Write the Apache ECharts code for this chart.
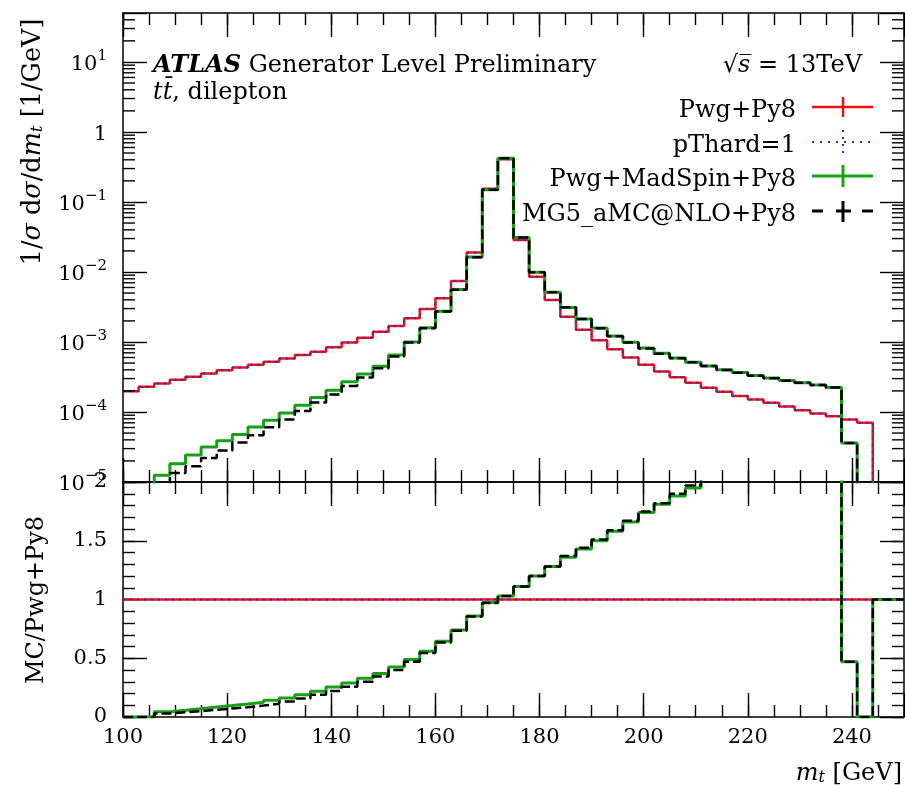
<!DOCTYPE html>
<html><head><meta charset="utf-8">
<script src="https://cdn.jsdelivr.net/npm/echarts@6/dist/echarts.min.js"></script>
<style>html,body{margin:0;padding:0;background:#fff}#c{width:905px;height:785px}</style>
</head><body><div id="c"></div>
<script>
// ---- data (3 GeV bins, 100-250 GeV) ----
const binEdges = [100,103,106,109,112,115,118,121,124,127,130,133,136,139,142,145,148,151,154,157,160,163,166,169,172,175,178,181,184,187,190,193,196,199,202,205,208,211,214,217,220,223,226,229,232,235,238,241,244,247,250];

const pwgPy8 = [1.97e-4,2.29e-4,2.56e-4,2.88e-4,3.18e-4,3.56e-4,3.96e-4,4.33e-4,4.72e-4,5.21e-4,
  5.82e-4,6.5e-4,7.24e-4,8.38e-4,9.8e-4,1.15e-3,1.40e-3,1.69e-3,2.18e-3,2.96e-3,
  4.21e-3,7.43e-3,1.89e-2,0.154,0.409,2.87e-2,8.57e-3,3.98e-3,2.30e-3,1.50e-3,
  1.06e-3,7.9e-4,6.0e-4,4.72e-4,3.8e-4,3.13e-4,2.62e-4,2.22e-4,1.94e-4,1.69e-4,
  1.51e-4,1.35e-4,1.20e-4,1.06e-4,9.5e-5,8.7e-5,7.8e-5,7.0e-5,0,0];

const pThard1 = [1.97e-4,2.29e-4,2.56e-4,2.88e-4,3.18e-4,3.56e-4,3.96e-4,4.33e-4,4.72e-4,5.21e-4,
  5.82e-4,6.5e-4,7.24e-4,8.38e-4,9.8e-4,1.15e-3,1.40e-3,1.69e-3,2.18e-3,2.96e-3,
  4.21e-3,7.43e-3,1.89e-2,0.154,0.409,2.87e-2,8.57e-3,3.98e-3,2.30e-3,1.50e-3,
  1.06e-3,7.9e-4,6.0e-4,4.72e-4,3.8e-4,3.13e-4,2.62e-4,2.22e-4,1.94e-4,1.69e-4,
  1.51e-4,1.35e-4,1.20e-4,1.06e-4,9.5e-5,8.7e-5,7.8e-5,7.0e-5,0,0];

const pwgMadSpinPy8 = [0,0,1.25e-5,1.83e-5,2.43e-5,3.17e-5,3.87e-5,4.77e-5,6.1e-5,7.6e-5,
  9.7e-5,1.25e-4,1.61e-4,2.05e-4,2.7e-4,3.5e-4,4.5e-4,6.5e-4,1.0e-3,1.6e-3,
  2.75e-3,5.6e-3,1.63e-2,0.15,0.42,3.1e-2,9.9e-3,5.13e-3,3.12e-3,2.13e-3,
  1.58e-3,1.22e-3,9.9e-4,8.2e-4,6.9e-4,5.9e-4,5.15e-4,4.55e-4,4.0e-4,3.65e-4,
  3.32e-4,3.05e-4,2.82e-4,2.61e-4,2.42e-4,2.24e-4,3.61e-5,0,0,0];

const mg5amcPy8 = [0,0,9e-6,1.35e-5,1.68e-5,2.2e-5,2.81e-5,3.66e-5,4.66e-5,6.07e-5,
  7.82e-5,1.03e-4,1.37e-4,1.78e-4,2.36e-4,3.1e-4,4.2e-4,6.2e-4,9.8e-4,1.57e-3,
  2.72e-3,5.55e-3,1.62e-2,0.15,0.42,3.1e-2,9.9e-3,5.13e-3,3.13e-3,2.13e-3,
  1.57e-3,1.21e-3,9.8e-4,8.1e-4,6.8e-4,5.85e-4,5.12e-4,4.52e-4,3.98e-4,3.62e-4,
  3.3e-4,3.03e-4,2.8e-4,2.61e-4,2.42e-4,2.24e-4,3.61e-5,0,0,0];

const ratioPwgPy8 = [1,1,1,1,1,1,1,1,1,1, 1,1,1,1,1,1,1,1,1,1, 1,1,1,1,1,1,1,1,1,1, 1,1,1,1,1,1,1,1,1,1, 1,1,1,1,1,1,1,1,1,1];
const ratioPThard1 = [1,1,1,1,1,1,1,1,1,1, 1,1,1,1,1,1,1,1,1,1, 1,1,1,1,1,1,1,1,1,1, 1,1,1,1,1,1,1,1,1,1, 1,1,1,1,1,1,1,1,1,1];
const ratioMadSpin = [0,0,0.045,0.057,0.07,0.085,0.097,0.11,0.125,0.143,
  0.162,0.19,0.22,0.255,0.29,0.33,0.37,0.425,0.49,0.56,
  0.645,0.74,0.86,0.975,1.03,1.11,1.2,1.28,1.36,1.43,
  1.5,1.58,1.66,1.74,1.81,1.88,1.95,2.03,2.05,2.2,
  2.2,2.28,2.36,2.46,2.55,2.57,0.47,0,1,1];
const ratioMg5amc = [0,0,0.03,0.04,0.05,0.062,0.072,0.083,0.097,0.113,
  0.132,0.158,0.19,0.222,0.258,0.3,0.345,0.4,0.47,0.545,
  0.635,0.735,0.855,0.97,1.03,1.11,1.2,1.28,1.37,1.44,
  1.51,1.59,1.67,1.75,1.82,1.9,1.97,2.04,2.05,2.2,
  2.2,2.28,2.36,2.46,2.55,2.57,0.47,0,1,1];

const logMinorTicks = [2e-5,3e-5,4e-5,5e-5,6e-5,7e-5,8e-5,9e-5,
  2e-4,3e-4,4e-4,5e-4,6e-4,7e-4,8e-4,9e-4,
  2e-3,3e-3,4e-3,5e-3,6e-3,7e-3,8e-3,9e-3,
  2e-2,3e-2,4e-2,5e-2,6e-2,7e-2,8e-2,9e-2,
  0.2,0.3,0.4,0.5,0.6,0.7,0.8,0.9,
  2,3,4,5,6,7,8,9, 20,30,40];

const seriesNames = ['Pwg+Py8','pThard=1','Pwg+MadSpin+Py8','MG5_aMC@NLO+Py8'];
const seriesColors = ['#f01010','#2b2bd8','#16a016','#000000'];

// ---- helpers ----
const FONT = 'DejaVu Serif';
const TICK_W = 1.4;
const LOG_FLOOR = 1e-9; // zero bins drawn below the log axis
function histPoints(vals, isLog) {
  const pts = [];
  for (let i = 0; i < vals.length; i++) {
    let v = vals[i];
    if (isLog && v <= 0) v = LOG_FLOOR;
    pts.push([binEdges[i], v]);
  }
  pts.push([binEdges[vals.length], pts[pts.length - 1][1]]);
  return pts;
}
function xa(grid, pos, interval, len, line, labels) {
  return {
    type: 'value', gridIndex: grid, position: pos, min: 100, max: 250, interval: interval,
    axisLine: { show: line, onZero: false, lineStyle: { color: '#000', width: 1.5 } },
    axisTick: { show: true, inside: true, length: len, lineStyle: { color: '#000', width: TICK_W } },
    axisLabel: { show: labels, margin: 10, color: '#000', fontFamily: FONT, fontSize: 21,
      formatter: v => (v % 20 === 0 ? String(v) : '') },
    splitLine: { show: false }
  };
}
function logY(pos, labels) {
  return {
    type: 'log', gridIndex: 0, position: pos, min: 1e-5, max: 50, logBase: 10, splitNumber: 7,
    axisLine: { show: true, onZero: false, lineStyle: { color: '#000', width: 1.5 } },
    axisTick: { show: true, inside: true, length: 24, lineStyle: { color: '#000', width: TICK_W } },
    splitLine: { show: false },
    axisLabel: {
      show: labels, margin: 16, color: '#000', showMaxLabel: true, showMinLabel: true,
      formatter: function (v) {
        const l = Math.log10(v), e = Math.round(l);
        if (Math.abs(l - e) > 0.01) return '';
        if (e === 0) return '{b|1}';
        if (e > 0) return '{b|10}{s|' + e + '}';
        return '{b|10}{s|\u2212' + (-e) + '}';
      },
      rich: {
        b: { fontFamily: FONT, fontSize: 21, color: '#000', lineHeight: 26, verticalAlign: 'bottom' },
        s: { fontFamily: FONT, fontSize: 15, color: '#000', lineHeight: 10, verticalAlign: 'top' }
      }
    }
  };
}
function ratioY(pos, interval, len, line, labels) {
  return {
    type: 'value', gridIndex: 1, position: pos, min: 0, max: 2, interval: interval,
    axisLine: { show: line, onZero: false, lineStyle: { color: '#000', width: 1.5 } },
    axisTick: { show: true, inside: true, length: len, lineStyle: { color: '#000', width: TICK_W } },
    splitLine: { show: false },
    axisLabel: { show: labels, margin: 16, color: '#000', fontFamily: FONT, fontSize: 21,
      showMinLabel: true, showMaxLabel: true }
  };
}
function histSeries(name, vals, color, width, dash, xi, yi, isLog, z) {
  return {
    type: 'line', name: name, xAxisIndex: xi, yAxisIndex: yi, step: 'end',
    data: histPoints(vals, isLog), showSymbol: false, symbol: 'none', clip: true,
    lineStyle: { color: color, width: width, type: dash }, z: z, silent: true
  };
}

// ---- text helpers ----
const baseRich = {
  n: { fontFamily: FONT, fontSize: 24, lineHeight: 28, verticalAlign: 'bottom' },
  i: { fontFamily: FONT, fontSize: 24, fontStyle: 'italic', lineHeight: 28, verticalAlign: 'bottom' },
  sub: { fontFamily: FONT, fontSize: 16, fontStyle: 'italic', lineHeight: 12, verticalAlign: 'bottom' },
  a: { fontFamily: FONT, fontSize: 24, fontStyle: 'italic', fontWeight: 'bold', lineHeight: 28, verticalAlign: 'bottom' },
  N: { fontFamily: FONT, fontSize: 25.5, lineHeight: 30, verticalAlign: 'bottom' },
  I: { fontFamily: FONT, fontSize: 25.5, fontStyle: 'italic', lineHeight: 30, verticalAlign: 'bottom' },
  SUB: { fontFamily: FONT, fontSize: 17, fontStyle: 'italic', lineHeight: 13, verticalAlign: 'bottom' }
};
function txt(x, y, text, align, rot) {
  return {
    type: 'text', x: x, y: y, rotation: rot || 0, silent: true, z: 50,
    style: { text: text, rich: baseRich, fill: '#000', fontFamily: FONT, fontSize: 24,
      textAlign: align, align: align, textVerticalAlign: 'middle', verticalAlign: 'middle' }
  };
}
function ln(x1, y1, x2, y2, color, w, dash) {
  return { type: 'line', silent: true, z: 50, shape: { x1, y1, x2, y2 },
    style: { stroke: color, lineWidth: w, lineDash: dash || null } };
}

const legendX0 = 812, legendX1 = 873, legendXc = 843, legendTextX = 796;
const legendY = [107, 142, 176, 211];

const graphics = [
  txt(153, 64, '{a|ATLAS}{n| Generator Level Preliminary}', 'left'),
  txt(153, 91, '{i|tt\u0304}{n|, dilepton}', 'left'),
  txt(862, 64, '{n|\u221A}{i|s\u0305}{n| = 13TeV}', 'right'),
  txt(31, 142, '{N|1/}{I|\u03C3}{N| d}{I|\u03C3}{N|/d}{I|m}{SUB|t}{N| [1/GeV]}', 'center', Math.PI / 2),
  txt(35, 600, '{n|MC/Pwg+Py8}', 'center', Math.PI / 2),
  txt(902, 772, '{i|m}{sub|t}{n| [GeV]}', 'right')
];
for (let k = 0; k < 4; k++) {
  graphics.push(txt(legendTextX, legendY[k] + 2, '{n|' + seriesNames[k] + '}', 'right'));
}
graphics.push(ln(legendX0, legendY[0], legendX1, legendY[0], seriesColors[0], 2.5));
graphics.push(ln(legendXc, legendY[0] - 10, legendXc, legendY[0] + 10, seriesColors[0], 2.5));
graphics.push(ln(legendX0, legendY[1], legendX1, legendY[1], seriesColors[1], 2, [2, 6]));
graphics.push(ln(legendXc, legendY[1] - 12, legendXc, legendY[1] + 12, seriesColors[1], 2, [2, 5]));
graphics.push(ln(legendX0, legendY[2], legendX1, legendY[2], seriesColors[2], 3));
graphics.push(ln(legendXc, legendY[2] - 11, legendXc, legendY[2] + 11, seriesColors[2], 3));
graphics.push(ln(legendX0, legendY[3], legendX0 + 11, legendY[3], seriesColors[3], 3));
graphics.push(ln(legendXc - 7, legendY[3], legendXc + 8, legendY[3], seriesColors[3], 3));
graphics.push(ln(legendX1 - 11, legendY[3], legendX1, legendY[3], seriesColors[3], 3));
graphics.push(ln(legendXc, legendY[3] - 10, legendXc, legendY[3] + 11, seriesColors[3], 3));

const chart = echarts.init(document.getElementById('c'), null, { renderer: 'canvas' });
chart.setOption({
  animation: false,
  backgroundColor: '#fff',
  textStyle: { fontFamily: FONT },
  grid: [
    { left: 123, top: 13, width: 781, height: 469, containLabel: false, outerBoundsMode: 'none' },
    { left: 123, top: 482, width: 781, height: 235, containLabel: false, outerBoundsMode: 'none' }
  ],
  xAxis: [
    xa(0, 'bottom', 20, 24, true, false),
    xa(0, 'top', 20, 24, true, false),
    xa(0, 'bottom', 5, 12, false, false),
    xa(0, 'top', 5, 12, false, false),
    xa(1, 'bottom', 20, 24, true, true),
    xa(1, 'top', 20, 24, true, false),
    xa(1, 'bottom', 5, 12, false, false),
    xa(1, 'top', 5, 12, false, false)
  ],
  yAxis: [
    logY('left', true), logY('right', false),
    ratioY('left', 0.5, 24, true, true), ratioY('right', 0.5, 24, true, false),
    ratioY('left', 0.1, 12, false, false), ratioY('right', 0.1, 12, false, false)
  ],
  graphic: graphics,
  series: [
    histSeries(seriesNames[0], pwgPy8, seriesColors[0], 2.5, 'solid', 0, 0, true, 4),
    histSeries(seriesNames[1], pThard1, seriesColors[1], 2, [2, 5], 0, 0, true, 5),
    histSeries(seriesNames[2], pwgMadSpinPy8, seriesColors[2], 3, 'solid', 0, 0, true, 6),
    histSeries(seriesNames[3], mg5amcPy8, seriesColors[3], 2.5, [10, 4], 0, 0, true, 7),
    histSeries(seriesNames[0] + ' ratio', ratioPwgPy8, seriesColors[0], 2.5, 'solid', 4, 2, false, 4),
    histSeries(seriesNames[1] + ' ratio', ratioPThard1, seriesColors[1], 2, [2, 5], 4, 2, false, 5),
    histSeries(seriesNames[2] + ' ratio', ratioMadSpin, seriesColors[2], 3, 'solid', 4, 2, false, 6),
    histSeries(seriesNames[3] + ' ratio', ratioMg5amc, seriesColors[3], 2.5, [10, 4], 4, 2, false, 7)
  ]
});

// log-axis minor ticks (2..9 x 10^n), positioned through the axis scale
const xl = chart.convertToPixel({ xAxisIndex: 0 }, 100);
const xr = chart.convertToPixel({ xAxisIndex: 0 }, 250);
const minorGraphics = [];
logMinorTicks.forEach(function (v) {
  const y = chart.convertToPixel({ yAxisIndex: 0 }, v);
  minorGraphics.push(ln(xl, y, xl + 12, y, '#000', TICK_W));
  minorGraphics.push(ln(xr - 12, y, xr, y, '#000', TICK_W));
});
chart.setOption({ graphic: graphics.concat(minorGraphics) });
</script>
</body></html>
